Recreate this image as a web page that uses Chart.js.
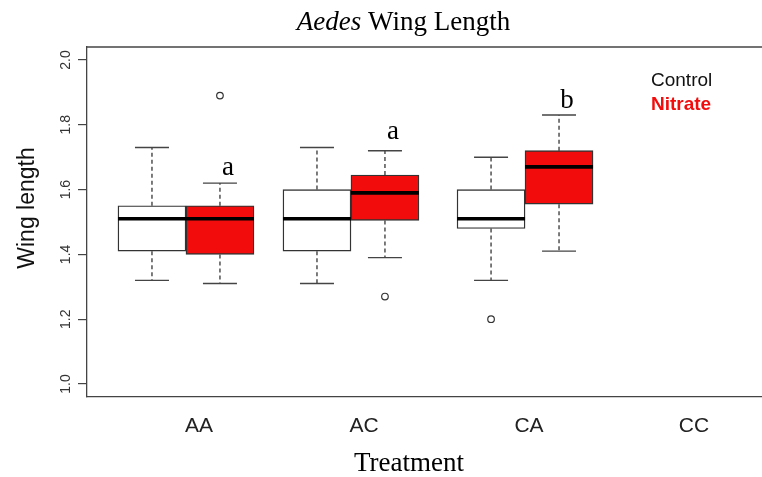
<!DOCTYPE html>
<html><head><meta charset="utf-8">
<script src="https://cdn.jsdelivr.net/npm/chart.js@4/dist/chart.umd.min.js"></script>
<style>html,body{margin:0;padding:0;background:#fff;overflow:hidden}</style>
</head><body>
<canvas id="c" width="762" height="477"></canvas>
<script>
// ---- data ----
const categories = ['AA', 'AC', 'CA', 'CC'];
const yTickValues = [1.0, 1.2, 1.4, 1.6, 1.8, 2.0];

const controlMin    = [1.32, 1.31, 1.32];
const controlQ1     = [1.41, 1.41, 1.48];
const controlMedian = [1.51, 1.51, 1.51];
const controlQ3     = [1.55, 1.60, 1.60];
const controlMax    = [1.73, 1.73, 1.70];
const controlOutliers = [[], [], [1.20]];

const nitrateMin    = [1.31, 1.39, 1.41];
const nitrateQ1     = [1.40, 1.505, 1.555];
const nitrateMedian = [1.51, 1.59, 1.67];
const nitrateQ3     = [1.55, 1.645, 1.72];
const nitrateMax    = [1.62, 1.72, 1.83];
const nitrateOutliers = [[1.89], [1.27], []];

const letters = ['a', 'a', 'b'];
const letterValues = [1.644, 1.755, 1.853];

// ---- layout (positions/sizes) ----
const GROUP_X = [0.921, 1.921, 2.976];
const HALF = 0.206;
const BOX_PX = 68;
const X_MIN = 0.32121, X_MAX = 4.41212;
const RED = '#f20c0c';

function mkBars(q1, q3, side) {
  return q1.map((v, i) => ({ x: GROUP_X[i] + side * HALF, y: [v, q3[i]] }));
}
const outlierPoints = [];
controlOutliers.forEach((arr, i) => arr.forEach(v => outlierPoints.push({ x: GROUP_X[i] - HALF, y: v })));
nitrateOutliers.forEach((arr, i) => arr.forEach(v => outlierPoints.push({ x: GROUP_X[i] + HALF, y: v })));

const series = [
  { side: -1, min: controlMin, q1: controlQ1, med: controlMedian, q3: controlQ3, max: controlMax },
  { side: 1, min: nitrateMin, q1: nitrateQ1, med: nitrateMedian, q3: nitrateQ3, max: nitrateMax }
];

const boxPlugin = {
  id: 'boxplot',
  beforeDatasetsDraw(chart) {
    const ctx = chart.ctx, xs = chart.scales.x, ys = chart.scales.y;
    ctx.save();
    series.forEach(s => {
      s.q1.forEach((q1, i) => {
        const cx = xs.getPixelForValue(GROUP_X[i] + s.side * HALF);
        const yMin = ys.getPixelForValue(s.min[i]);
        const yMax = ys.getPixelForValue(s.max[i]);
        const yQ1 = ys.getPixelForValue(q1);
        const yQ3 = ys.getPixelForValue(s.q3[i]);
        ctx.strokeStyle = '#444';
        ctx.lineWidth = 1.4;
        ctx.setLineDash([4, 3]);
        ctx.beginPath();
        ctx.moveTo(cx, yQ1); ctx.lineTo(cx, yMin);
        ctx.moveTo(cx, yQ3); ctx.lineTo(cx, yMax);
        ctx.stroke();
        ctx.setLineDash([]);
        ctx.beginPath();
        ctx.moveTo(cx - BOX_PX / 4, yMin); ctx.lineTo(cx + BOX_PX / 4, yMin);
        ctx.moveTo(cx - BOX_PX / 4, yMax); ctx.lineTo(cx + BOX_PX / 4, yMax);
        ctx.stroke();
      });
    });
    ctx.restore();
  },
  afterDatasetsDraw(chart) {
    const ctx = chart.ctx, xs = chart.scales.x, ys = chart.scales.y;
    ctx.save();
    series.forEach(s => {
      s.med.forEach((m, i) => {
        const cx = xs.getPixelForValue(GROUP_X[i] + s.side * HALF);
        const y = ys.getPixelForValue(m);
        ctx.strokeStyle = '#000';
        ctx.lineWidth = 3.6;
        ctx.beginPath();
        ctx.moveTo(cx - BOX_PX / 2, y); ctx.lineTo(cx + BOX_PX / 2, y);
        ctx.stroke();
      });
    });
    ctx.restore();
  },
  afterDraw(chart) {
    const ctx = chart.ctx, xs = chart.scales.x, ys = chart.scales.y, ca = chart.chartArea;
    ctx.save();
    // top frame line
    ctx.strokeStyle = '#444'; ctx.lineWidth = 1.3;
    ctx.beginPath(); ctx.moveTo(ca.left, ca.top); ctx.lineTo(ca.right, ca.top); ctx.stroke();
    // significance letters
    ctx.fillStyle = '#000';
    ctx.font = '27px "Liberation Serif"';
    ctx.textAlign = 'center'; ctx.textBaseline = 'alphabetic';
    letters.forEach((l, i) => {
      const cx = xs.getPixelForValue(GROUP_X[i] + HALF) + 8;
      ctx.fillText(l, cx, ys.getPixelForValue(letterValues[i]));
    });
    // legend text
    ctx.textAlign = 'left';
    ctx.font = '19px "Liberation Sans"'; ctx.fillStyle = '#111';
    ctx.fillText('Control', 651, 86);
    ctx.font = 'bold 19px "Liberation Sans"'; ctx.fillStyle = RED;
    ctx.fillText('Nitrate', 651, 110);
    // title: italic + regular
    ctx.fillStyle = '#000';
    const f1 = 'italic 27px "Liberation Serif"', f2 = '27px "Liberation Serif"';
    ctx.font = f1; const w1 = ctx.measureText('Aedes').width;
    ctx.font = f2; const w2 = ctx.measureText(' Wing Length').width;
    let x0 = 403.5 - (w1 + w2) / 2;
    ctx.font = f1; ctx.fillText('Aedes', x0, 30);
    ctx.font = f2; ctx.fillText(' Wing Length', x0 + w1, 30);
    // x axis title
    ctx.textAlign = 'center';
    ctx.fillText('Treatment', 409, 471);
    // y axis title
    ctx.translate(28, 208);
    ctx.rotate(-Math.PI / 2);
    ctx.textBaseline = 'middle';
    ctx.font = '23px "Liberation Sans"'; ctx.fillStyle = '#111';
    ctx.fillText('Wing length', 0, 0);
    ctx.restore();
  }
};

new Chart(document.getElementById('c').getContext('2d'), {
  type: 'bar',
  data: {
    datasets: [
      { type: 'bar', label: 'Control', data: mkBars(controlQ1, controlQ3, -1),
        backgroundColor: '#ffffff', borderColor: '#333', borderWidth: 1.4, borderSkipped: false,
        barThickness: BOX_PX, grouped: false },
      { type: 'bar', label: 'Nitrate', data: mkBars(nitrateQ1, nitrateQ3, 1),
        backgroundColor: RED, borderColor: '#333', borderWidth: 1.4, borderSkipped: false,
        barThickness: BOX_PX, grouped: false },
      { type: 'scatter', label: 'Outliers', data: outlierPoints,
        pointRadius: 3.3, pointBorderColor: '#333', pointBackgroundColor: '#fff', pointBorderWidth: 1.2 }
    ]
  },
  options: {
    responsive: false, animation: false, devicePixelRatio: 1,
    layout: { autoPadding: false, padding: { top: 47, left: 0, right: 0, bottom: 0 } },
    plugins: { legend: { display: false }, tooltip: { enabled: false }, title: { display: false } },
    scales: {
      x: {
        type: 'linear', min: X_MIN, max: X_MAX, offset: false,
        grid: { display: false },
        border: { display: true, color: '#444', width: 1.3 },
        afterBuildTicks: s => { s.ticks = [1, 2, 3, 4].map(v => ({ value: v })); },
        ticks: { callback: (v, i) => categories[i], font: { family: 'Liberation Sans', size: 21 },
                 color: '#222', padding: 9, minRotation: 0, maxRotation: 0, autoSkip: false },
        afterFit: s => { s.height = 80; }
      },
      y: {
        type: 'linear', min: 0.96, max: 2.04,
        grid: { display: true, drawOnChartArea: false, drawTicks: true, tickLength: 9, color: '#444', lineWidth: 1.2 },
        border: { display: true, color: '#444', width: 1.3 },
        afterBuildTicks: s => { s.ticks = yTickValues.map(v => ({ value: v })); },
        ticks: { callback: v => Number(v).toFixed(1), font: { family: 'Liberation Sans', size: 14 },
                 color: '#333', padding: 2, minRotation: 90, maxRotation: 90, crossAlign: 'center', autoSkip: false },
        afterFit: s => { s.width = 87; }
      }
    }
  },
  plugins: [boxPlugin]
});
</script>
</body></html>
